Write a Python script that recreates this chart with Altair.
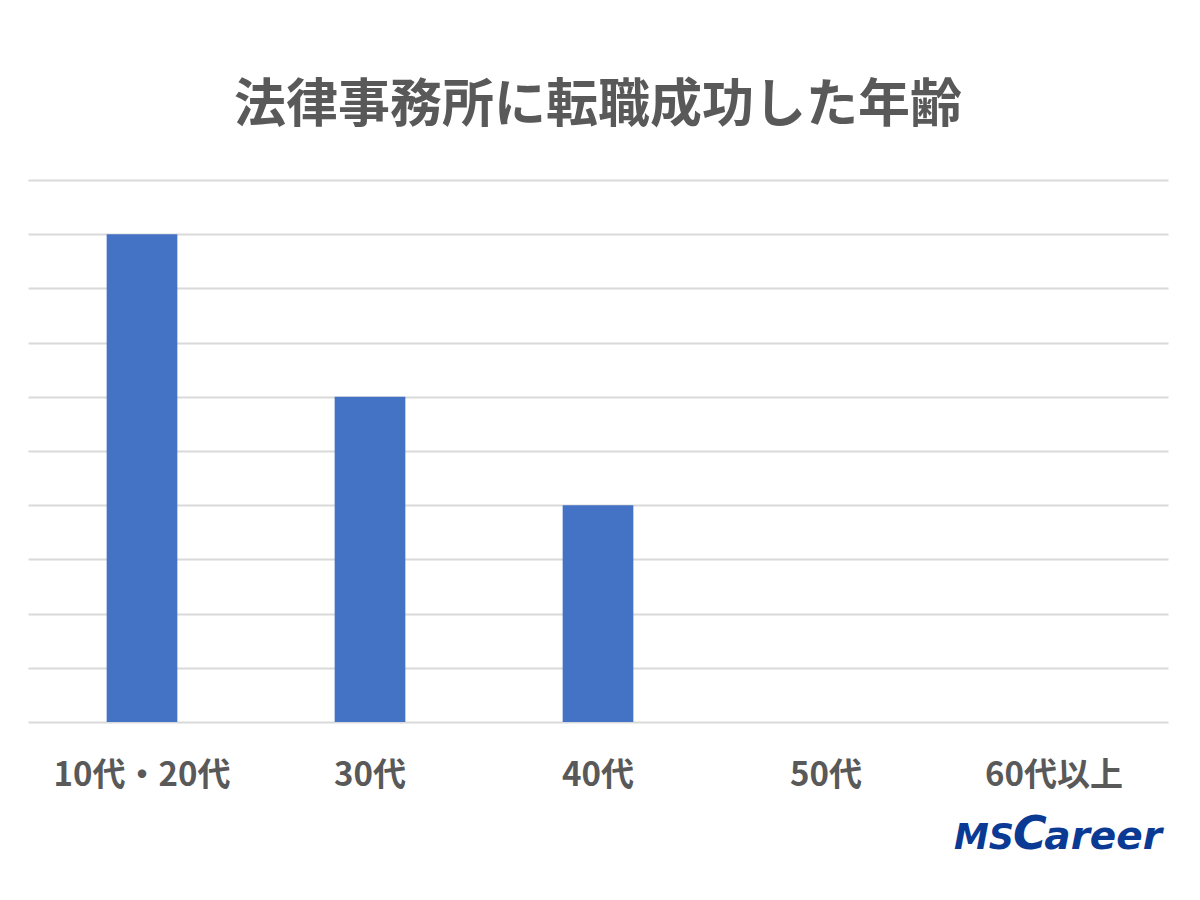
import altair as alt
import pandas as pd

categories = ["10代・20代", "30代", "40代", "50代", "60代以上"]
values = [9, 6, 4, 0, 0]

df = pd.DataFrame({"age": categories, "count": values})

JP = "Noto Sans CJK JP"
GRAY = "#595959"
LOGO = "#0a3a94"

bars = alt.Chart(df).mark_bar(color="#4472c4").encode(
    x=alt.X("age:N", sort=categories, title=None,
            scale=alt.Scale(paddingInner=0.69, paddingOuter=0.345),
            axis=alt.Axis(labelAngle=0, labelFont=JP, labelFontSize=33, labelFontWeight="bold",
                          labelColor=GRAY, labelPadding=37, domain=False, ticks=False, grid=False)),
    y=alt.Y("count:Q", title=None,
            scale=alt.Scale(domain=[0, 10], nice=False),
            axis=alt.Axis(values=list(range(0, 11)), labels=False, ticks=False, domain=False,
                          grid=True, gridColor="#d9d9d9", gridWidth=2)),
)

logo_parts = ["MS", "C", "areer"]


def logo_text(txt, font, size, x, align):
    d = pd.DataFrame({"t": [txt]})
    return alt.Chart(d).mark_text(
        font=font, fontSize=size, fontStyle="italic", fontWeight="bold",
        color=LOGO, align=align, baseline="alphabetic"
    ).encode(text="t:N", x=alt.value(x), y=alt.value(669))


logo = (logo_text(logo_parts[0], "DejaVu Sans", 35, 926, "left")
        + logo_text(logo_parts[1], "DejaVu Sans", 46, 985, "left")
        + logo_text(logo_parts[2], "DejaVu Sans", 39, 1134, "right"))

chart = alt.layer(bars, logo).properties(
    width=1140, height=542,
    background="white",
    title=alt.TitleParams("法律事務所に転職成功した年齢", font=JP, fontSize=52, fontWeight="bold",
                          color=GRAY, anchor="middle", offset=47),
    autosize=alt.AutoSizeParams(type="none"),
    padding={"left": 20, "top": 172, "right": 20, "bottom": 150},
).configure_view(strokeWidth=0, stroke="transparent")

chart.save("out.html", embed_options={"renderer": "svg", "actions": False})
